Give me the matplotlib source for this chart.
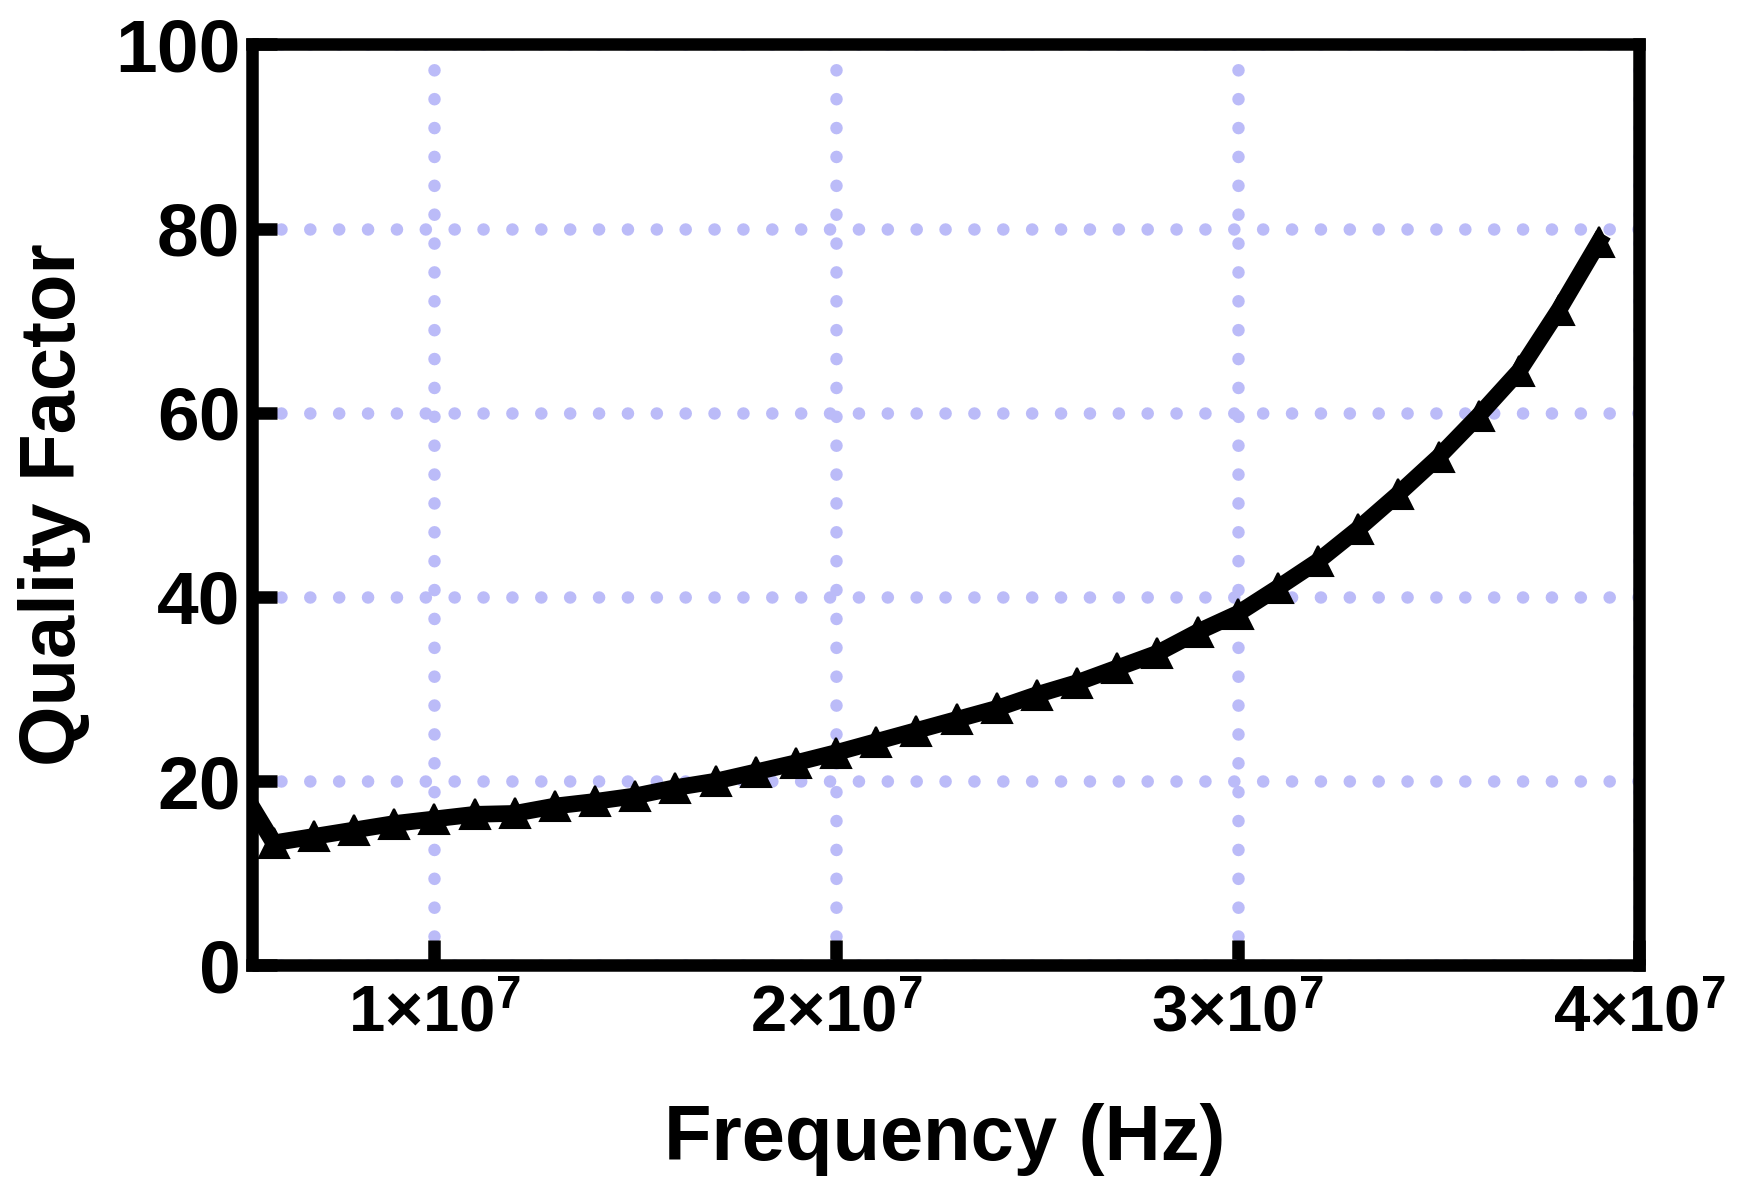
import matplotlib
matplotlib.use("Agg")
from matplotlib import pyplot as plt

# frequency in Hz, quality factor
freq = [5e6, 6e6, 7e6, 8e6, 9e6, 1.0e7, 1.1e7, 1.2e7, 1.3e7, 1.4e7, 1.5e7, 1.6e7,
        1.7e7, 1.8e7, 1.9e7, 2.0e7, 2.1e7, 2.2e7, 2.3e7, 2.4e7, 2.5e7, 2.6e7,
        2.7e7, 2.8e7, 2.9e7, 3.0e7, 3.1e7, 3.2e7, 3.3e7, 3.4e7, 3.5e7, 3.6e7,
        3.7e7, 3.8e7, 3.9e7]
quality = [20.5, 13.3, 14.0, 14.7, 15.4, 15.9, 16.4, 16.5, 17.3, 17.8, 18.4, 19.3,
           20.0, 21.0, 22.0, 23.1, 24.3, 25.5, 26.7, 27.9, 29.4, 30.7,
           32.3, 33.9, 36.2, 38.2, 41.0, 43.9, 47.4, 51.2, 55.2, 59.7,
           64.5, 71.2, 78.6]

xticks = [1e7, 2e7, 3e7, 4e7]
xticklabels = [r'$\mathbf{1{\times}10^{7}}$', r'$\mathbf{2{\times}10^{7}}$',
               r'$\mathbf{3{\times}10^{7}}$', r'$\mathbf{4{\times}10^{7}}$']
yticks = [0, 20, 40, 60, 80, 100]

plt.rcParams['font.family'] = ['Liberation Sans', 'DejaVu Sans']
plt.rcParams['font.weight'] = 'bold'
plt.rcParams['mathtext.fontset'] = 'custom'
plt.rcParams['mathtext.bf'] = 'Liberation Sans:bold'
plt.rcParams['mathtext.rm'] = 'Liberation Sans:bold'

fig = plt.figure(figsize=(17.44, 11.79), dpi=100)
ax = fig.add_axes([0.1443, 0.1812, 0.7957, 0.7811])

ax.plot(freq, quality, color='black', linewidth=12, marker='^',
        markersize=22, markeredgewidth=1.5, solid_joinstyle='round')

ax.set_xlim(5.45e6, 4.0e7)
ax.set_ylim(0, 100)
ax.set_xticks(xticks)
ax.set_xticklabels(xticklabels)
ax.set_yticks(yticks)

ax.grid(True, color='#bbbbf8', linewidth=9, linestyle=(0, (0.01, 2.3)))
for gl in ax.get_xgridlines() + ax.get_ygridlines():
    gl.set_dash_capstyle('round')

for sp in ax.spines.values():
    sp.set_linewidth(9)
ax.tick_params(axis='both', direction='in', length=18, width=9)
ax.tick_params(axis='x', pad=14, labelsize=47)
ax.tick_params(axis='y', pad=8, labelsize=54)

fig.text(0.5419, 0.0161, 'Frequency (Hz)', fontsize=56, fontweight='bold',
         ha='center', va='baseline')
fig.text(0.0430, 0.5718, 'Quality Factor', fontsize=56, fontweight='bold',
         rotation=90, rotation_mode='anchor', ha='center', va='baseline')

fig.savefig('out.png', dpi=100)
